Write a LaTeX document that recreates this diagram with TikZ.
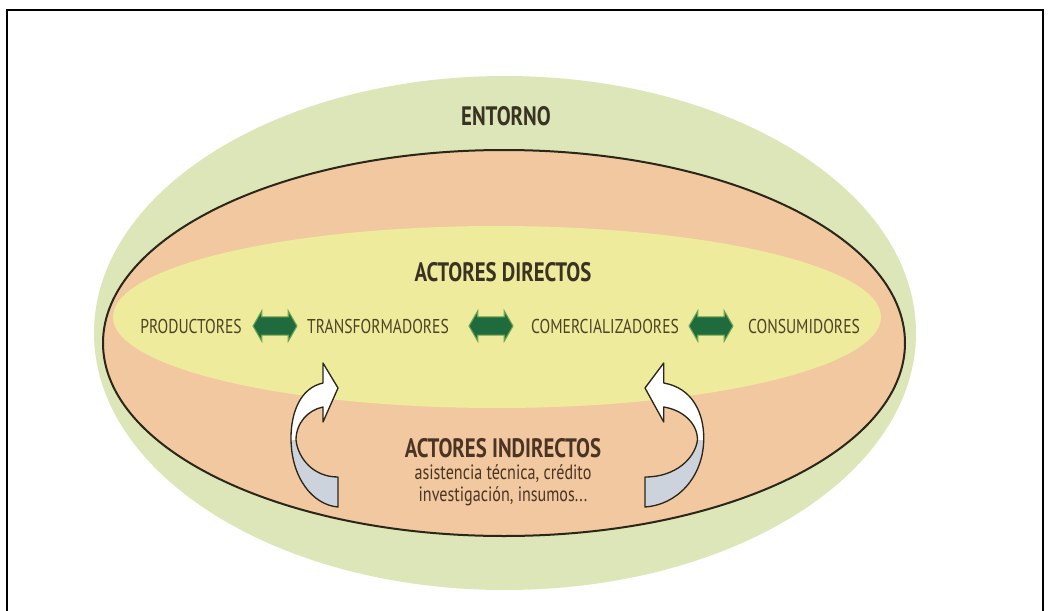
\documentclass[tikz,border=0pt]{standalone}
\usepackage{fontspec}
\usepackage{tikz}
\usetikzlibrary{positioning, shapes.arrows}
\newfontfamily\diagfont{PT Sans}[FakeStretch=0.78]

\definecolor{entornogreen}{HTML}{DDE6B8}
\definecolor{cadenapeach}{HTML}{F1C89F}
\definecolor{directyellow}{HTML}{EFEB9D}
\definecolor{rimcol}{HTML}{2A2618}
\definecolor{linkgreen}{HTML}{1F6B3E}
\definecolor{linkedge}{HTML}{6FA552}
\definecolor{ribbongray}{HTML}{CDD3DC}
\definecolor{headtext}{HTML}{3A3222}
\definecolor{actortext}{HTML}{4A4424}
\definecolor{indirtext}{HTML}{4B3424}

\tikzset{
  heading/.style={font=\diagfont\bfseries\fontsize{20}{22}\selectfont, text=headtext, inner sep=0pt},
  actor/.style={font=\diagfont\fontsize{15}{18}\selectfont, text=actortext, inner sep=0pt},
  detail/.style={font=\diagfont\fontsize{15.5}{16}\selectfont, text=indirtext, align=center, inner sep=0pt},
  linkarrow/.style={double arrow, fill=linkgreen, draw=linkedge, line width=0.8pt,
    minimum height=33pt, inner sep=6.5pt, double arrow head extend=4.5pt,
    double arrow tip angle=120},
  bendarrow/.pic={
    \fill[white] \bendshape;
    \begin{scope}
      \clip \bendshape;
      \fill[ribbongray] (-60,52) rectangle (10,130);
    \end{scope}
    \draw[rimcol, line width=1pt, line join=round] \bendshape;
  }
}
% curved arrow outline, tip at (0,0)
\newcommand\bendshape{(0,89) .. controls (-25,89) and (-40,70) .. (-42,52)
  .. controls (-42,35) and (-30,22) .. (-15,19) -- (-15,34) -- (0,0) -- (-15,-25)
  -- (-15,-5) .. controls (-38,0) and (-47,25) .. (-47,50)
  .. controls (-47,90) and (-25,117) .. (0,119) -- cycle}

\begin{document}
\begin{tikzpicture}[x=0.75pt,y=-0.75pt]
\useasboundingbox (0,0) rectangle (1051,611);
% Frame
\draw[line width=1.5pt] (7,611) -- (7,10) -- (1043,10) -- (1043,611);
% Ellipses
\fill[entornogreen] (505,333) ellipse (411 and 257);
\fill[cadenapeach] (504,343) ellipse (401 and 193);
\begin{scope}
\clip (504,343) ellipse (401 and 193);
\fill[directyellow] (497,317) ellipse (384 and 91);
\end{scope}
\draw[rimcol, line width=1.5pt] (504,343) ellipse (401 and 193);
% Labels
\node[heading] (entorno) at (506,116) {ENTORNO};
\node[heading] (directos) at (503,272) {ACTORES DIRECTOS};
\node[actor] (prod) at (191,326) {PRODUCTORES};
\node[actor] (trans) at (378,326) {TRANSFORMADORES};
\node[actor] (comer) at (605,326) {COMERCIALIZADORES};
\node[actor] (cons) at (804,326) {CONSUMIDORES};
% Links between actors
\node[linkarrow] (link1) at (275,326) {};
\node[linkarrow] (link2) at (491,326) {};
\node[linkarrow] (link3) at (711,326) {};
% Indirect actors
\node[heading, text=indirtext] (indirectos) at (503,448) {ACTORES INDIRECTOS};
\node[detail, below=5pt of indirectos] (detalle) {asistencia técnica, crédito\\investigación, insumos...};
% Curved arrows
\pic at (338,388) {bendarrow};
\pic[transform shape, xscale=-1.25] at (645,388) {bendarrow};
\end{tikzpicture}
\end{document}
